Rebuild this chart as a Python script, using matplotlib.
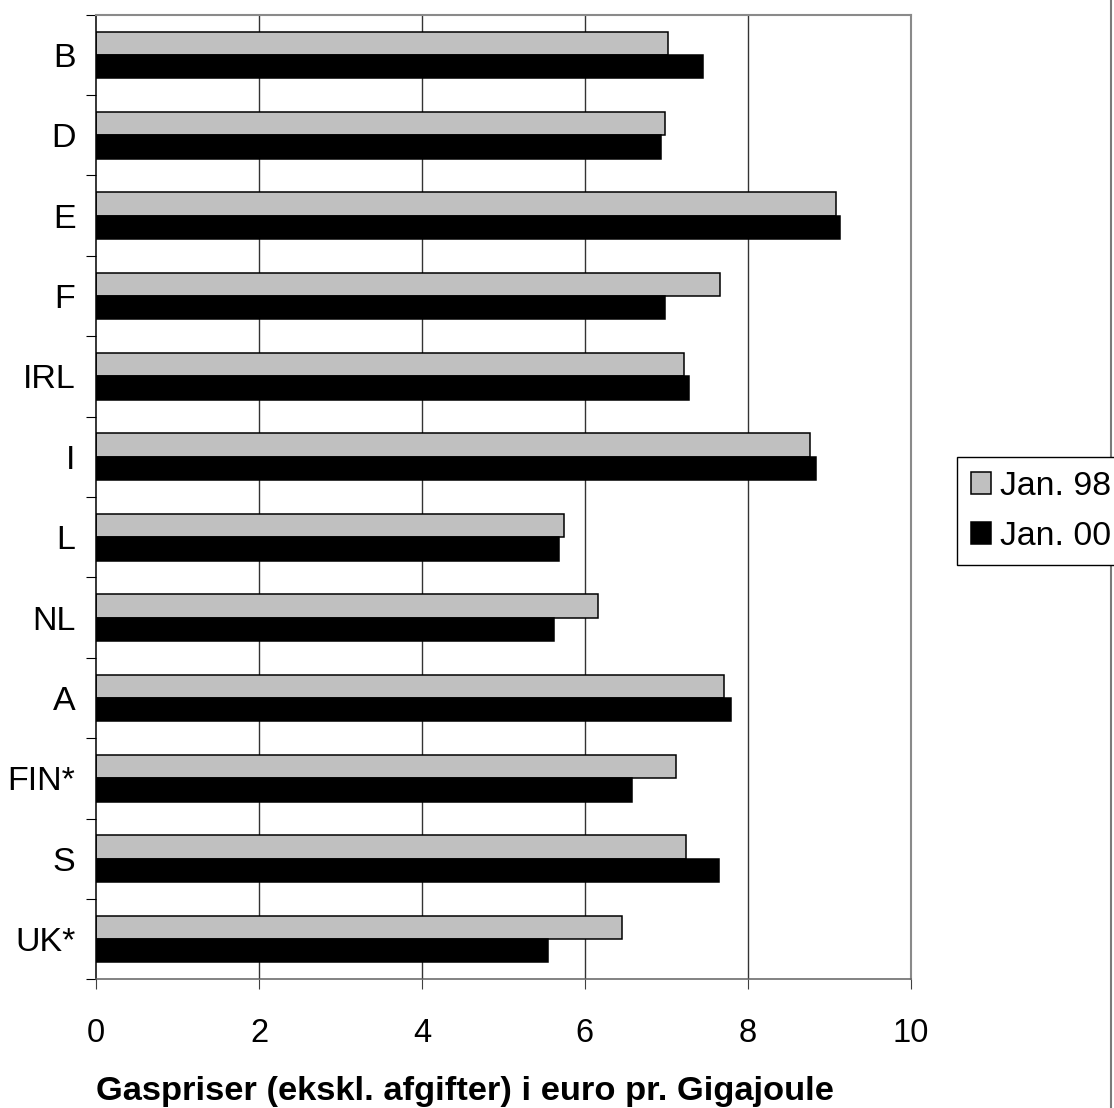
import matplotlib
matplotlib.use("Agg")
import matplotlib.pyplot as plt
import numpy as np
from matplotlib.patches import Patch
from matplotlib.lines import Line2D
from matplotlib.ticker import FixedLocator

plt.rcParams['font.family'] = ['Liberation Sans', 'DejaVu Sans']

categories = ["B", "D", "E", "F", "IRL", "I", "L", "NL", "A", "FIN*", "S", "UK*"]
jan98 = [7.02, 6.99, 9.08, 7.66, 7.22, 8.76, 5.75, 6.16, 7.71, 7.12, 7.24, 6.46]
jan00 = [7.45, 6.93, 9.14, 6.98, 7.28, 8.84, 5.68, 5.62, 7.79, 6.58, 7.65, 5.55]
series_labels = ["Jan. 98", "Jan. 00"]
xticks = [0, 2, 4, 6, 8, 10]
xlabel = "Gaspriser (ekskl. afgifter) i euro pr. Gigajoule"

W, H = 1114, 1108
fig = plt.figure(figsize=(W / 100, H / 100), dpi=100)
ax = fig.add_axes([96.3 / W, 1 - 979.3 / H, (910.5 - 96.3) / W, (979.3 - 14.7) / H])

y = np.arange(len(categories))
h = 0.29
ax.barh(y - h / 2, jan98, height=h, color="#c0c0c0", edgecolor="black", linewidth=1.1, zorder=3)
ax.barh(y + h / 2, jan00, height=h, color="black", edgecolor="black", linewidth=1.1, zorder=3)

ax.set_xlim(0, 10)
ax.set_ylim(len(categories) - 0.5, -0.5)

ax.set_xticks(xticks)
ax.set_xticklabels([str(t) for t in xticks], fontsize=23.5)
ax.tick_params(axis='x', direction='out', length=7.2, width=0.8, color='#404040', pad=20.5)

ax.set_yticks(y)
ax.set_yticklabels(categories, fontsize=24.5)
ax.tick_params(axis='y', which='major', length=0, pad=15)
ax.yaxis.set_minor_locator(FixedLocator(np.arange(-0.5, len(categories), 1.0)))
ax.tick_params(axis='y', which='minor', direction='out', length=7.2, width=0.8, color='black')

for xv in xticks[1:-1]:
    ax.axvline(xv, color='#333333', linewidth=1.0, zorder=1)

ax.spines['left'].set_color('black')
ax.spines['left'].set_linewidth(1.1)
ax.spines['bottom'].set_color('#606060')
ax.spines['bottom'].set_linewidth(1.1)
ax.spines['top'].set_color('#8a8a8a')
ax.spines['top'].set_linewidth(1.5)
ax.spines['right'].set_color('#8a8a8a')
ax.spines['right'].set_linewidth(1.5)
for s in ax.spines.values():
    s.set_zorder(4)

fig.text(96 / W, 1 - 1100 / H, xlabel, fontsize=24.8, fontweight='bold', ha='left', va='baseline')

# figure right border line
fig.add_artist(Line2D([1110.7 / W, 1110.7 / W], [0, 1], transform=fig.transFigure,
                      color='#7a7a7a', linewidth=1.5))

handles = [Patch(facecolor="#c0c0c0", edgecolor="black", linewidth=1.1),
           Patch(facecolor="black", edgecolor="black", linewidth=1.1)]
leg = fig.legend(handles, series_labels, loc='upper left',
                 bbox_to_anchor=(957.3 / W, 1 - 457.3 / H), bbox_transform=fig.transFigure,
                 fontsize=24.3, frameon=True, fancybox=False, shadow=False,
                 borderpad=0.4, handlelength=0.6, handleheight=0.62,
                 handletextpad=0.26, labelspacing=0.56, borderaxespad=0)
leg.get_frame().set_edgecolor('black')
leg.get_frame().set_linewidth(1.0)
leg.get_frame().set_alpha(1)

fig.savefig("out.png", dpi=100)
